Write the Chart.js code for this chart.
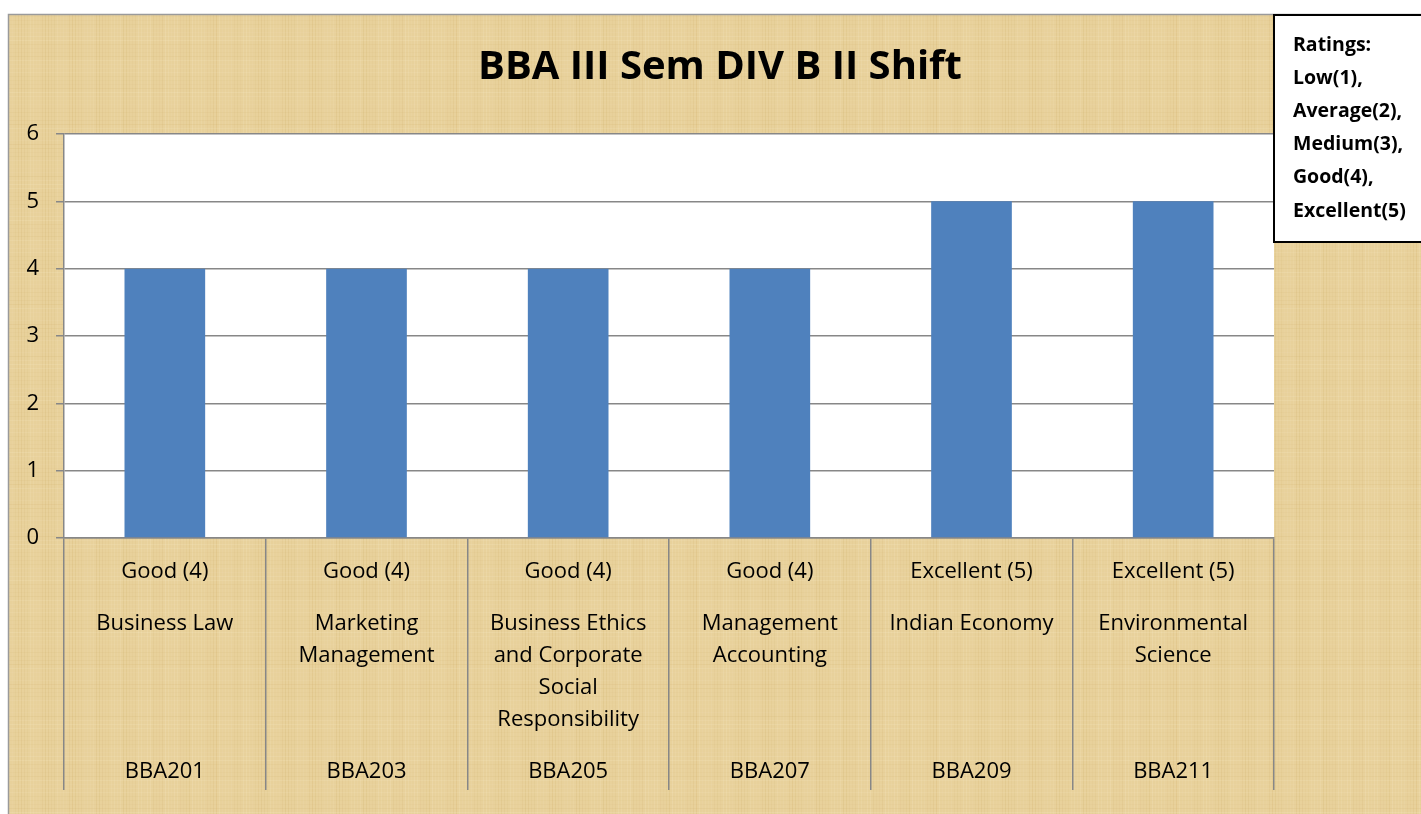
<!DOCTYPE html>
<html><head><meta charset="utf-8">
<script src="https://cdn.jsdelivr.net/npm/chart.js@4/dist/chart.umd.min.js"></script>
<style>html,body{margin:0;padding:0;background:#fff;overflow:hidden}#wrap{width:1421px;height:814px;position:relative}</style>
</head><body><div id="wrap"><canvas id="c" width="1421" height="814"></canvas></div>
<script>
const codes = ['BBA201','BBA203','BBA205','BBA207','BBA209','BBA211'];
const ratingLabels = ['Good (4)','Good (4)','Good (4)','Good (4)','Excellent (5)','Excellent (5)'];
const subjectLines = [
  ['Business Law'],
  ['Marketing','Management'],
  ['Business Ethics','and Corporate','Social','Responsibility'],
  ['Management','Accounting'],
  ['Indian Economy'],
  ['Environmental','Science']
];
const values = [4,4,4,4,5,5];
const yMin = 0, yMax = 6, yStep = 1;
const titleText = 'BBA III Sem DIV B II Shift';
const legendLines = ['Ratings:','Low(1),','Average(2),','Medium(3),','Good(4),','Excellent(5)'];

const FONT = "'Open Sans', 'Liberation Sans', sans-serif";
const AXIS = '#878787';

function makeTexture(){
  const p = document.createElement('canvas');
  p.width = 240; p.height = 180;
  const g = p.getContext('2d');
  g.fillStyle = '#E8D19B';
  g.fillRect(0,0,p.width,p.height);
  for(let x=0;x<p.width;x+=3){
    const a = 0.05 + 0.06*Math.abs(Math.sin(x*0.37)+Math.sin(x*0.11));
    g.fillStyle = (Math.sin(x*0.23)>0) ? 'rgba(255,245,220,'+a+')' : 'rgba(200,165,90,'+a+')';
    g.fillRect(x,0,1,p.height);
  }
  for(let y=0;y<p.height;y+=4){
    const a = 0.04 + 0.05*Math.abs(Math.sin(y*0.29)+Math.cos(y*0.07));
    g.fillStyle = (Math.cos(y*0.19)>0) ? 'rgba(255,245,220,'+a+')' : 'rgba(200,165,90,'+a+')';
    g.fillRect(0,y,p.width,1);
  }
  return p;
}

const bgPlugin = {
  id:'bg',
  beforeDraw(chart){
    const ctx = chart.ctx, W = chart.width, H = chart.height;
    ctx.save();
    ctx.fillStyle = '#fff';
    ctx.fillRect(0,0,W,H);
    ctx.fillStyle = ctx.createPattern(makeTexture(),'repeat');
    ctx.fillRect(8,14,W-8,H-14);
    ctx.strokeStyle = '#9a9a9a';
    ctx.lineWidth = 1.5;
    ctx.strokeRect(8.5,14.5,W+10,H+10);
    const a = chart.chartArea;
    ctx.fillStyle = '#fff';
    ctx.fillRect(a.left,a.top,a.right-a.left,a.bottom-a.top);
    ctx.restore();
  },
  afterDraw(chart){
    const ctx = chart.ctx, x = chart.scales.x, W = chart.width;
    ctx.save();
    // title
    ctx.fillStyle = '#000';
    ctx.font = "bold 40px " + FONT;
    ctx.textAlign = 'center';
    ctx.textBaseline = 'middle';
    ctx.fillText(titleText, 720, 68);
    // category labels
    ctx.font = "22px " + FONT;
    for(let i=0;i<codes.length;i++){
      const cx = x.getPixelForValue(i);
      ctx.fillText(ratingLabels[i], cx, 572);
      subjectLines[i].forEach((ln,j)=>ctx.fillText(ln, cx, 624 + j*32));
      ctx.fillText(codes[i], cx, 772);
    }
    // ratings legend box
    ctx.fillStyle = '#fff';
    ctx.fillRect(1273,14,W,228);
    ctx.strokeStyle = '#000';
    ctx.lineWidth = 2;
    ctx.strokeRect(1274,15,W,227);
    ctx.fillStyle = '#000';
    ctx.font = "bold 19.5px " + FONT;
    ctx.textAlign = 'left';
    legendLines.forEach((ln,j)=>ctx.fillText(ln, 1293, 45 + j*33.2));
    ctx.restore();
  }
};

new Chart(document.getElementById('c'), {
  type:'bar',
  data:{ labels: codes, datasets:[{ data: values, backgroundColor:'#4F81BD', borderWidth:0,
    categoryPercentage:1, barPercentage:0.4 }]},
  options:{
    responsive:false, animation:false, devicePixelRatio:1,
    layout:{ padding:{ left:0, top:134, right:147, bottom:0 } },
    plugins:{ legend:{display:false}, tooltip:{enabled:false}, title:{display:false} },
    scales:{
      x:{ type:'category', offset:true,
        grid:{ offset:true, drawOnChartArea:false, drawTicks:true, tickLength:252, color:AXIS, lineWidth:1.5 },
        border:{ display:true, color:AXIS, width:1.5 },
        ticks:{ display:false },
        afterFit(s){ s.height = 276; } },
      y:{ min:yMin, max:yMax,
        ticks:{ stepSize:yStep, color:'#000', padding:17, font:{ size:22, family:FONT } },
        grid:{ color:AXIS, lineWidth:1.5, tickLength:8 },
        border:{ display:true, color:AXIS, width:1.5 },
        afterFit(s){ s.width = 64; } }
    }
  },
  plugins:[bgPlugin]
});
</script></body></html>
